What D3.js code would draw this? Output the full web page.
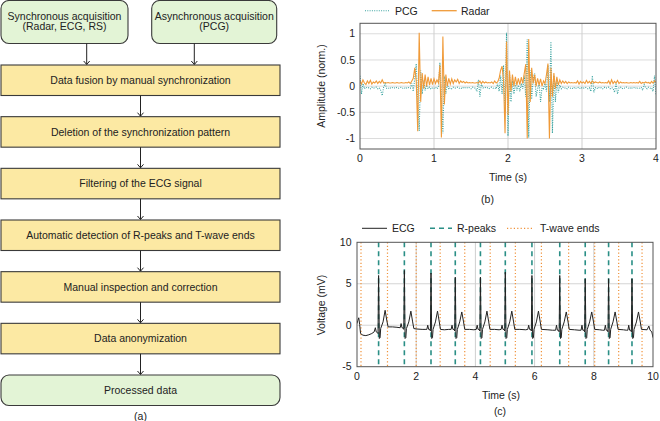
<!DOCTYPE html>
<html><head><meta charset="utf-8">
<script src="https://cdn.jsdelivr.net/npm/d3@7"></script>
<style>body{margin:0;background:#fff}svg{display:block;font-family:"Liberation Sans",Arial,sans-serif}</style>
</head><body><svg id="c" width="660" height="421"></svg>
<script>
// ---------- DATA ----------
const sourceLines = [["Synchronous acquisition","(Radar, ECG, RS)"],["Asynchronous acquisition","(PCG)"]];
const flowSteps = ["Data fusion by manual synchronization","Deletion of the synchronization pattern","Filtering of the ECG signal","Automatic detection of R-peaks and T-wave ends","Manual inspection and correction","Data anonymization","Processed data"];

// (b) sampled every 0.02 s from 0 to 4 s
const bStep = 0.02;
const radarValues = [
0.10,0.04,0.12,0.06,0.03,0.10,0.05,0.11,0.04,0.08,0.06,0.10,0.05,0.09,0.06,0.12,
0.06,0.07,0.06,0.07,0.06,0.06,0.07,0.06,0.06,0.07,0.06,0.06,0.07,0.06,0.06,0.07,0.06,0.08,0.05,0.10,
0.15,0.35,0.10,-0.86,1.02,-0.30,0.25,-0.05,0.22,0.00,
0.18,0.02,0.15,0.03,0.14,0.05,0.12,0.06,
0.40,-0.98,0.95,-0.35,0.22,0.00,0.15,
0.04,0.14,0.05,0.12,0.08,0.13,0.05,0.10,0.07,0.09,
0.06,0.08,0.06,0.07,0.06,0.07,0.06,0.06,0.07,0.06,
0.10,0.05,0.09,0.06,0.08,0.06,0.07,0.06,0.08,0.05,
0.10,0.06,0.08,0.15,0.30,
0.38,0.10,-0.90,0.85,-0.55,0.30,-0.10,0.22,0.00,0.18,
0.02,0.15,0.03,0.17,0.05,0.25,
0.42,-1.00,0.90,-0.30,0.35,0.05,0.22,0.00,0.15,
0.02,0.14,0.00,0.10,0.05,0.22,
0.43,-1.00,0.35,-0.20,0.25,-0.05,0.18,0.02,0.12,
0.05,0.10,0.06,0.09,0.05,0.08,0.06,0.07,0.06,0.07,
0.06,0.10,0.04,0.09,0.06,0.08,0.05,0.11,0.06,0.09,
0.05,0.10,0.06,0.08,0.07,0.06,0.08,0.06,0.07,0.06,
0.07,0.06,0.10,0.04,0.12,0.05,0.09,0.06,0.11,0.05,
0.08,0.06,0.07,0.06,0.07,0.06,0.06,0.07,0.06,0.07,
0.06,0.07,0.06,0.09,0.05,0.07,0.06,0.08,0.06,0.07,
0.05,0.09,0.06,0.10,0.07];
const pcgValues = [
0.20,-0.15,0.05,-0.05,-0.02,-0.04,-0.03,-0.05,-0.02,-0.04,-0.03,-0.02,-0.05,-0.03,-0.08,-0.18,
-0.02,0.05,-0.04,-0.03,-0.05,-0.02,-0.03,-0.04,-0.02,-0.03,-0.04,-0.03,-0.02,-0.04,-0.03,-0.05,-0.02,-0.03,-0.04,0.05,
-0.10,0.15,0.43,-0.30,-0.85,0.30,-0.15,0.10,-0.08,0.02,
-0.05,-0.02,-0.06,-0.03,-0.04,-0.02,-0.05,-0.02,
0.45,-0.20,-0.90,0.20,-0.15,0.05,-0.06,
-0.03,-0.05,-0.02,-0.04,-0.03,-0.02,-0.04,-0.03,-0.05,-0.02,
-0.03,-0.04,-0.02,-0.03,-0.05,-0.02,-0.03,-0.04,-0.10,0.12,
-0.20,0.05,-0.03,-0.04,-0.02,-0.03,-0.05,-0.03,-0.02,-0.04,
-0.03,-0.05,0.05,-0.10,0.20,
-0.15,0.40,-0.50,1.02,-0.95,0.25,-0.30,0.10,-0.15,0.05,
-0.08,0.02,-0.10,0.05,-0.05,0.20,
-0.20,0.90,-0.98,0.30,-0.25,0.15,0.25,-0.20,-0.05,
0.05,-0.30,-0.03,-0.05,0.05,-0.10,
0.40,-0.30,0.85,-0.90,0.20,-0.30,0.10,-0.12,0.02,
-0.05,-0.02,-0.04,-0.03,-0.05,-0.02,-0.04,-0.03,-0.05,-0.02,
-0.04,-0.03,-0.02,-0.05,-0.03,-0.04,-0.02,-0.03,-0.05,-0.03,
-0.10,0.20,-0.12,-0.03,-0.05,-0.02,-0.04,-0.03,-0.05,-0.02,
-0.04,-0.03,-0.02,-0.05,-0.03,-0.04,-0.12,0.06,-0.15,-0.03,
-0.02,-0.05,-0.03,-0.04,-0.02,-0.03,-0.05,-0.02,-0.04,-0.03,
-0.02,-0.05,-0.03,-0.04,-0.02,-0.08,0.03,-0.03,-0.05,-0.02,
-0.04,-0.03,-0.10,0.20,-0.18];
const bXTicks = [0,1,2,3,4];
const bYTicks = [-1,-0.5,0,0.5,1];

// (c) ECG as [time s, mV]
const ecgPoints = [
[0,0.2],[0.03,0.6],[0.06,0.9],[0.09,0.1],[0.12,-1.0],[0.2,-1.2],[0.3,-1.25],[0.4,-1.15],[0.5,-1.0],[0.58,-0.8],[0.62,-0.3],[0.65,-0.8],[0.69,-0.9],[0.71,-1.0],
[0.73,6.0],[0.755,-1.6],[0.78,-1.5],[0.8,-0.4],[0.88,0.4],[0.95,1.8],[1.01,0.5],[1.05,-0.2],[1.2,-0.2],[1.35,-0.25],
[1.46,-0.3],[1.49,0.2],[1.52,-0.3],[1.56,-0.35],[1.58,-0.5],[1.60,6.6],[1.625,-1.6],[1.65,-1.5],[1.67,-0.4],[1.75,0.4],[1.82,1.7],[1.88,0.4],[1.92,-0.4],
[2.0,-0.45],[2.2,-0.5],[2.3,-0.5],
[2.36,-0.5],[2.39,0.0],[2.42,-0.5],[2.46,-0.5],[2.48,-0.7],[2.50,6.3],[2.525,-1.6],[2.55,-1.5],[2.57,-0.5],[2.65,0.4],[2.72,1.7],[2.78,0.4],[2.82,-0.5],
[2.95,-0.55],[3.1,-0.5],
[3.18,-0.5],[3.21,0.0],[3.24,-0.5],[3.28,-0.5],[3.30,-0.7],[3.32,5.8],[3.345,-1.6],[3.37,-1.5],[3.39,-0.5],[3.47,0.4],[3.54,1.6],[3.60,0.4],[3.64,-0.5],
[3.8,-0.5],[3.95,-0.55],
[4.03,-0.5],[4.06,0.0],[4.09,-0.5],[4.13,-0.5],[4.15,-0.7],[4.17,5.8],[4.195,-1.6],[4.22,-1.5],[4.24,-0.5],[4.32,0.4],[4.39,1.7],[4.45,0.4],[4.49,-0.5],
[4.65,-0.5],[4.8,-0.55],
[4.87,-0.5],[4.90,0.0],[4.93,-0.5],[4.97,-0.5],[4.99,-0.7],[5.01,6.4],[5.035,-1.6],[5.06,-1.5],[5.08,-0.5],[5.16,0.4],[5.23,1.7],[5.29,0.4],[5.33,-0.5],
[5.5,-0.5],[5.7,-0.55],
[5.77,-0.5],[5.80,0.0],[5.83,-0.5],[5.87,-0.5],[5.89,-0.7],[5.91,6.0],[5.935,-1.6],[5.96,-1.5],[5.98,-0.5],[6.06,0.4],[6.13,1.7],[6.19,0.4],[6.23,-0.5],
[6.45,-0.55],[6.6,-0.6],
[6.71,-0.6],[6.74,0.0],[6.77,-0.6],[6.81,-0.6],[6.83,-0.8],[6.85,6.0],[6.875,-1.6],[6.90,-1.5],[6.92,-0.5],[7.0,0.4],[7.07,1.6],[7.13,0.4],[7.17,-0.5],
[7.35,-0.55],[7.5,-0.6],
[7.57,-0.6],[7.60,0.0],[7.63,-0.6],[7.67,-0.6],[7.69,-0.8],[7.71,5.6],[7.735,-1.6],[7.76,-1.5],[7.78,-0.5],[7.86,0.4],[7.93,1.6],[7.99,0.4],[8.03,-0.5],
[8.2,-0.55],[8.3,-0.6],
[8.36,-0.6],[8.39,0.0],[8.42,-0.6],[8.46,-0.6],[8.48,-0.8],[8.50,5.6],[8.525,-1.6],[8.55,-1.5],[8.57,-0.5],[8.65,0.4],[8.72,1.6],[8.78,0.4],[8.82,-0.5],
[9.0,-0.55],[9.1,-0.6],
[9.15,-0.6],[9.18,0.0],[9.21,-0.6],[9.25,-0.6],[9.27,-0.8],[9.29,5.6],[9.315,-1.6],[9.34,-1.5],[9.36,-0.5],[9.44,0.4],[9.51,1.6],[9.57,0.4],[9.61,-0.5],
[9.8,-0.55],[9.86,-0.1],[9.9,-0.6],[9.96,-0.8],[10.0,-1.5]];
const rPeaks = [0.73,1.60,2.50,3.32,4.17,5.01,5.91,6.85,7.71,8.50,9.29];
const tWaveEnds = [0.135,1.03,2.0,2.81,3.64,4.5,5.35,6.23,7.15,8.03,8.84,9.63];
const cXTicks = [0,2,4,6,8,10];
const cYTicks = [-5,0,5,10];

// ---------- DRAW ----------
const svg = d3.select("#c");
const FS = 10.5;
const teal = "#2a8f86", tealLight = "#3aa3a0", orange = "#f09a38", orange2 = "#f0923a";

// ----- (a) flowchart -----
const fy = d3.scaleLinear().domain([0,6]).range([65,375]);
const boxH = 30.5;
const fa = svg.append("g");
const srcX = [[1,128,86.7],[151.7,276.7,194.3]];
sourceLines.forEach((lines,i)=>{
  const [x0,x1,ax] = srcX[i];
  fa.append("rect").attr("x",x0).attr("y",0.5).attr("width",x1-x0).attr("height",43).attr("rx",8)
    .attr("fill","#e3f4d6").attr("stroke","#3a3a3a").attr("stroke-width",1.1);
  lines.forEach((t,j)=>fa.append("text").attr("x",(x0+x1)/2).attr("y",19.5+j*10.8).attr("text-anchor","middle")
    .attr("font-size",FS).attr("fill","#222").text(t));
  arrow(ax,43.5,fy(0));
});
flowSteps.forEach((s,i)=>{
  const last = i===flowSteps.length-1;
  fa.append("rect").attr("x",1).attr("y",fy(i)).attr("width",279).attr("height",boxH).attr("rx",last?8:0)
    .attr("fill",last?"#e3f4d6":"#fce9a3").attr("stroke","#3a3a3a").attr("stroke-width",1.1);
  fa.append("text").attr("x",140.5).attr("y",fy(i)+boxH/2+3.7).attr("text-anchor","middle")
    .attr("font-size",FS).attr("fill","#222").text(s);
  if(!last) arrow(140.5,fy(i)+boxH,fy(i+1));
});
fa.append("text").attr("x",140.5).attr("y",420).attr("text-anchor","middle").attr("font-size",FS).attr("fill","#222").text("(a)");
function arrow(x,y0,y1){
  fa.append("line").attr("x1",x).attr("x2",x).attr("y1",y0).attr("y2",y1-0.5).attr("stroke","#222").attr("stroke-width",1);
  fa.append("path").attr("d",`M${x-3},${y1-4} L${x},${y1-0.5} L${x+3},${y1-4}`).attr("fill","none").attr("stroke","#222").attr("stroke-width",1);
}

// ----- (b) -----
const bx = d3.scaleLinear().domain([0,4]).range([360,656]);
const by = d3.scaleLinear().domain([-1.2,1.2]).range([149,23.3]);
const gb = svg.append("g");
gb.append("defs").append("clipPath").attr("id","clipb").append("rect")
  .attr("x",360).attr("y",23.3).attr("width",296).attr("height",125.7);
gb.selectAll(".hg").data(bYTicks).join("line").attr("x1",360).attr("x2",656)
  .attr("y1",d=>by(d)).attr("y2",d=>by(d)).attr("stroke","#dcdcdc").attr("stroke-width",1);
gb.selectAll(".vg").data([1,2,3]).join("line").attr("y1",23.3).attr("y2",149)
  .attr("x1",d=>bx(d)).attr("x2",d=>bx(d)).attr("stroke","#cfcfcf").attr("stroke-width",1);
const lineB = d3.line().x((d,i)=>bx(i*bStep)).y(d=>by(d));
gb.append("path").datum(pcgValues).attr("d",lineB).attr("fill","none").attr("stroke",tealLight)
  .attr("stroke-width",1.1).attr("stroke-dasharray","1,1.3").attr("clip-path","url(#clipb)");
gb.append("path").datum(radarValues).attr("d",lineB).attr("fill","none").attr("stroke",orange)
  .attr("stroke-width",1.1).attr("clip-path","url(#clipb)");
gb.append("rect").attr("x",360).attr("y",23.3).attr("width",296).attr("height",125.7)
  .attr("fill","none").attr("stroke","#555").attr("stroke-width",1);
gb.selectAll(".xt").data(bXTicks).join("text").attr("x",d=>bx(d)).attr("y",162).attr("text-anchor","middle")
  .attr("font-size",FS).attr("fill","#222").text(d=>d3.format("")(d));
gb.selectAll(".yt").data(bYTicks).join("text").attr("x",355).attr("y",d=>by(d)+3.7).attr("text-anchor","end")
  .attr("font-size",FS).attr("fill","#222").text(d=>d);
gb.append("text").attr("x",508).attr("y",180.5).attr("text-anchor","middle").attr("font-size",FS).attr("fill","#222").text("Time (s)");
gb.append("text").attr("x",487.5).attr("y",202.5).attr("text-anchor","middle").attr("font-size",FS).attr("fill","#222").text("(b)");
gb.append("text").attr("transform","translate(325,86) rotate(-90)").attr("text-anchor","middle").attr("font-size",FS).attr("fill","#222").text("Amplitude (norm.)");
// legend
gb.append("line").attr("x1",365).attr("x2",390).attr("y1",10.7).attr("y2",10.7).attr("stroke",tealLight).attr("stroke-width",1.1).attr("stroke-dasharray","1,1.3");
gb.append("text").attr("x",395).attr("y",14.5).attr("font-size",FS).attr("fill","#222").text("PCG");
gb.append("line").attr("x1",431.7).attr("x2",456.7).attr("y1",10.7).attr("y2",10.7).attr("stroke",orange).attr("stroke-width",1.3);
gb.append("text").attr("x",461).attr("y",14.5).attr("font-size",FS).attr("fill","#222").text("Radar");

// ----- (c) -----
const cx = d3.scaleLinear().domain([0,10]).range([357,653]);
const cy = d3.scaleLinear().domain([-5,10]).range([366.7,242.3]);
const gc = svg.append("g");
gc.append("defs").append("clipPath").attr("id","clipc").append("rect")
  .attr("x",357).attr("y",242.3).attr("width",296).attr("height",124.4);
gc.selectAll(".hg").data([0,5]).join("line").attr("x1",357).attr("x2",653)
  .attr("y1",d=>cy(d)).attr("y2",d=>cy(d)).attr("stroke","#d4d4d4").attr("stroke-width",1);
gc.selectAll(".vg").data([2,4,6,8]).join("line").attr("y1",242.3).attr("y2",366.7)
  .attr("x1",d=>cx(d)).attr("x2",d=>cx(d)).attr("stroke","#cfcfcf").attr("stroke-width",1);
gc.selectAll(".tw").data(tWaveEnds).join("line").attr("y1",242.3).attr("y2",366.7)
  .attr("x1",d=>cx(d)).attr("x2",d=>cx(d)).attr("stroke",orange2).attr("stroke-width",1.2).attr("stroke-dasharray","1.2,2.2");
gc.selectAll(".rp").data(rPeaks).join("line").attr("y1",242.3).attr("y2",366.7)
  .attr("x1",d=>cx(d)).attr("x2",d=>cx(d)).attr("stroke",teal).attr("stroke-width",1.6).attr("stroke-dasharray","5,4");
gc.append("path").datum(ecgPoints).attr("d",d3.line().x(d=>cx(d[0])).y(d=>cy(d[1])))
  .attr("fill","none").attr("stroke","#222").attr("stroke-width",1).attr("clip-path","url(#clipc)");
gc.append("rect").attr("x",357).attr("y",242.3).attr("width",296).attr("height",124.4)
  .attr("fill","none").attr("stroke","#555").attr("stroke-width",1);
gc.selectAll(".xt").data(cXTicks).join("text").attr("x",d=>cx(d)).attr("y",379.5).attr("text-anchor","middle")
  .attr("font-size",FS).attr("fill","#222").text(d=>d);
gc.selectAll(".yt").data(cYTicks).join("text").attr("x",351.5).attr("y",d=>cy(d)+3.7).attr("text-anchor","end")
  .attr("font-size",FS).attr("fill","#222").text(d=>d);
gc.append("text").attr("x",501).attr("y",398.5).attr("text-anchor","middle").attr("font-size",FS).attr("fill","#222").text("Time (s)");
gc.append("text").attr("x",500).attr("y",415).attr("text-anchor","middle").attr("font-size",FS).attr("fill","#222").text("(c)");
gc.append("text").attr("transform","translate(325,305) rotate(-90)").attr("text-anchor","middle").attr("font-size",FS).attr("fill","#222").text("Voltage (mV)");
// legend
gc.append("line").attr("x1",362).attr("x2",387).attr("y1",228.3).attr("y2",228.3).attr("stroke","#222").attr("stroke-width",1);
gc.append("text").attr("x",392).attr("y",232).attr("font-size",FS).attr("fill","#222").text("ECG");
gc.append("line").attr("x1",430).attr("x2",452).attr("y1",228.3).attr("y2",228.3).attr("stroke",teal).attr("stroke-width",1.6).attr("stroke-dasharray","5,4");
gc.append("text").attr("x",457).attr("y",232).attr("font-size",FS).attr("fill","#222").text("R-peaks");
gc.append("line").attr("x1",507).attr("x2",533).attr("y1",228.3).attr("y2",228.3).attr("stroke",orange2).attr("stroke-width",1.2).attr("stroke-dasharray","1.2,2.2");
gc.append("text").attr("x",540).attr("y",232).attr("font-size",FS).attr("fill","#222").text("T-wave ends");
</script></body></html>
